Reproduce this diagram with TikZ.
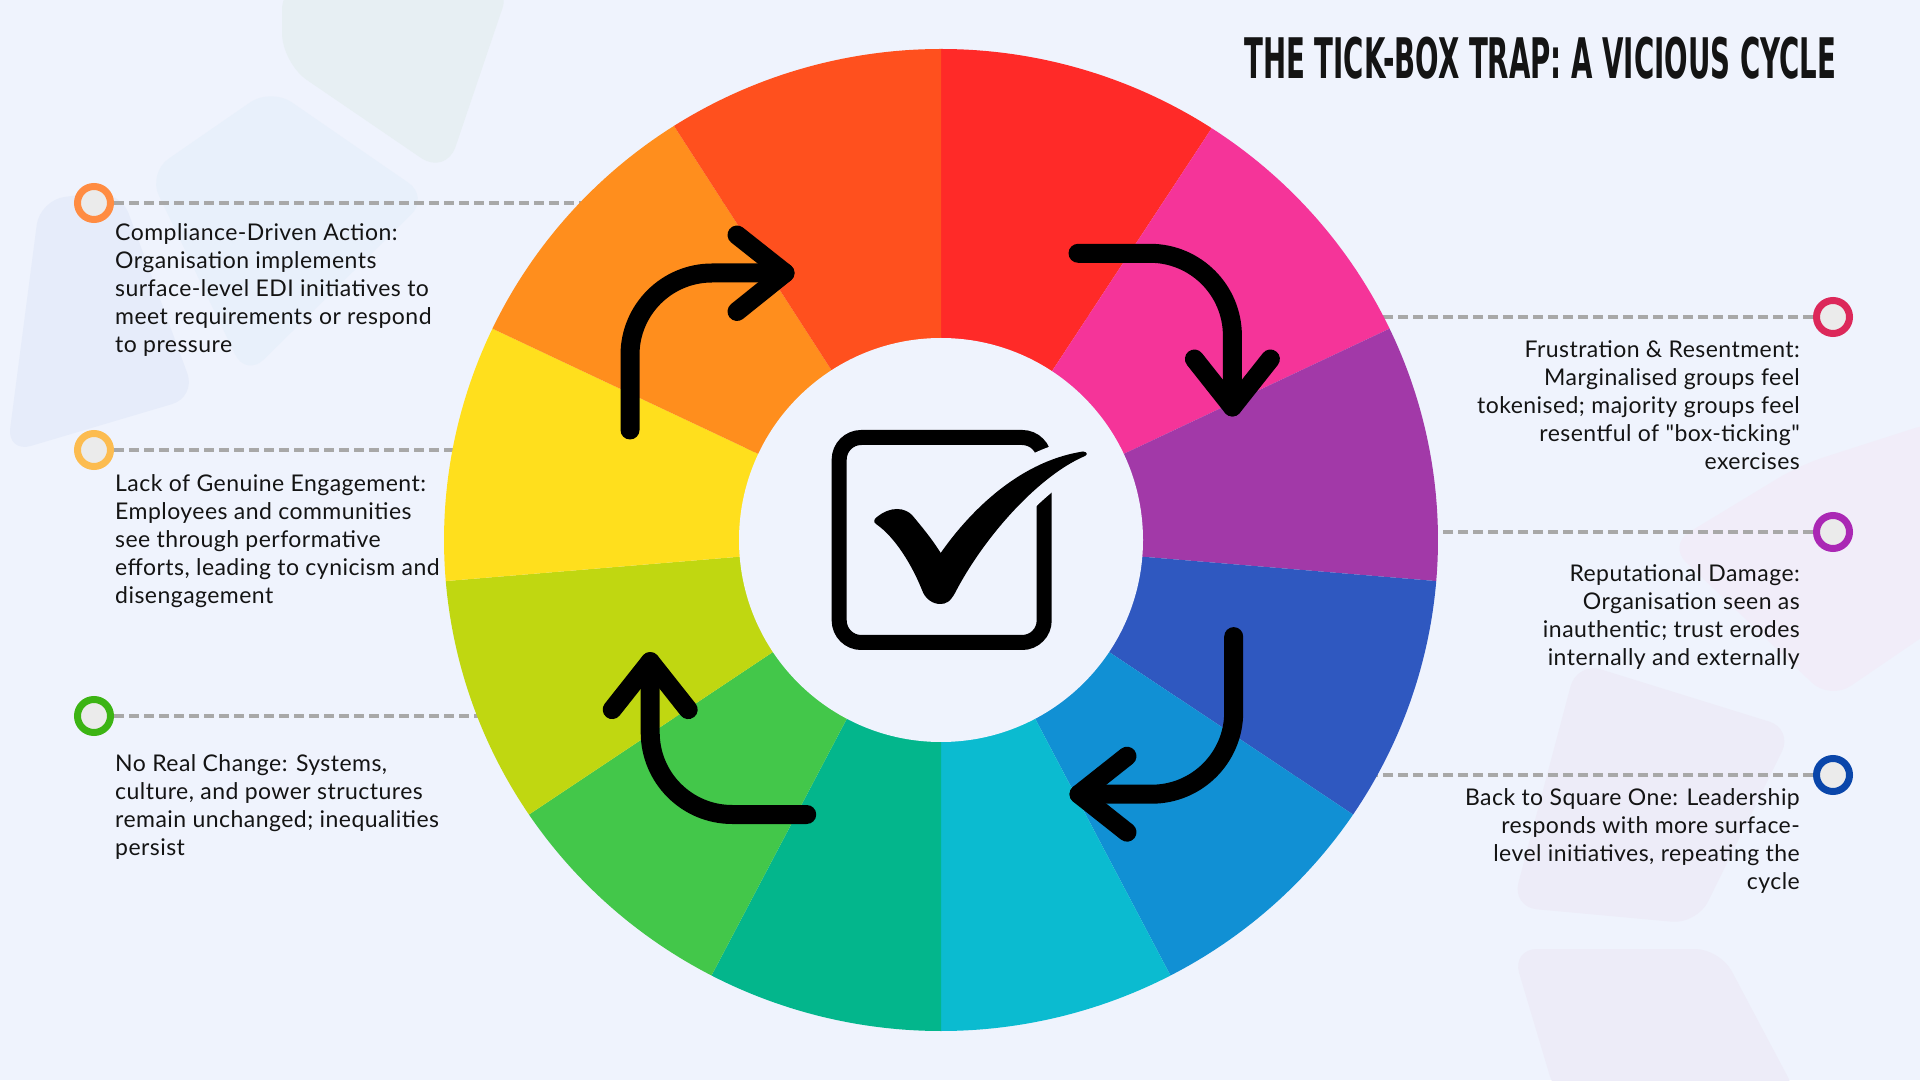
\documentclass[tikz,border=0pt]{standalone}
\usepackage{fontspec}
\setmainfont{Lato}[Ligatures=TeXOff, LetterSpace=2]
\newfontfamily\titlefont{DejaVu Sans}
\definecolor{bgpage}{RGB}{239,243,253}
\definecolor{ink}{RGB}{20,20,20}
\definecolor{dashgray}{RGB}{168,168,168}
\definecolor{dotfill}{RGB}{235,235,235}
\definecolor{segA}{RGB}{255,42,40}
\definecolor{segB}{RGB}{245,52,153}
\definecolor{segC}{RGB}{162,57,168}
\definecolor{segD}{RGB}{47,88,192}
\definecolor{segE}{RGB}{17,144,212}
\definecolor{segF}{RGB}{11,187,208}
\definecolor{segG}{RGB}{3,182,140}
\definecolor{segH}{RGB}{67,199,74}
\definecolor{segI}{RGB}{192,215,17}
\definecolor{segJ}{RGB}{255,223,29}
\definecolor{segK}{RGB}{255,142,29}
\definecolor{segL}{RGB}{255,80,30}
\definecolor{dotA}{RGB}{255,140,66}
\definecolor{dotB}{RGB}{252,188,80}
\definecolor{dotC}{RGB}{60,180,20}
\definecolor{dotD}{RGB}{220,40,90}
\definecolor{dotE}{RGB}{170,40,180}
\definecolor{dotF}{RGB}{10,70,170}
\definecolor{shA}{RGB}{231,239,243}
\definecolor{shB}{RGB}{232,240,251}
\definecolor{shC}{RGB}{230,236,250}
\definecolor{shD}{RGB}{241,237,249}
\definecolor{shE}{RGB}{237,236,248}
\usepackage{tikz}
\tikzset{
  pdot/.style={circle, draw=#1, line width=7pt, fill=dotfill, minimum size=33pt, inner sep=0pt},
  pline/.style={draw=dashgray, line width=3.5pt, dash pattern=on 10pt off 5pt},
  ltext/.style={anchor=north west, align=left, inner sep=0pt, text=ink, font=\fontsize{23}{28}\selectfont},
  rtext/.style={anchor=north east, align=right, inner sep=0pt, text=ink, font=\fontsize{23}{28}\selectfont},
  cyarrow/.style={line width=19pt, line cap=round, line join=round, black}
}

\begin{document}
\begin{tikzpicture}[x=1pt,y=1pt]
  \useasboundingbox (0,0) rectangle (1920,1080);
  \fill[bgpage] (0,0) rectangle (1920,1080);
  % faint shapes
  \fill[shA, rounded corners=30pt] (282,1100) -- (512,1100) -- (446,905) -- (282,1017) -- cycle;
  \fill[shB, rounded corners=25pt] (271,992) -- (429,883) -- (246,703) -- (148,907) -- cycle;
  \fill[shC, rounded corners=25pt] (40,880) -- (120,890) -- (196,683) -- (7,627) -- cycle;
  \fill[shD, rounded corners=25pt] (1668,535) -- (1800,615) -- (1940,660) -- (1940,455) -- (1830,380) -- cycle;
  \fill[shE, rounded corners=25pt] (1577,418) -- (1793,351) -- (1697,156) -- (1512,173) -- cycle;
  \fill[shE, rounded corners=25pt] (1512,131) -- (1720,131) -- (1800,-20) -- (1557,-20) -- cycle;

  % leader lines and dots
  \coordinate (ctr) at (941,540);
  \node[pdot=dotA] (d1) at (94,877) {};
  \node[pdot=dotB] (d2) at (94,630) {};
  \node[pdot=dotC] (d3) at (94,364) {};
  \node[pdot=dotD] (d4) at (1833,763) {};
  \node[pdot=dotE] (d5) at (1833,548) {};
  \node[pdot=dotF] (d6) at (1833,305) {};
  \coordinate (w1) at (941,877);
  \coordinate (w2) at (941,630);
  \coordinate (w3) at (941,364);
  \coordinate (w4) at (941,763);
  \coordinate (w5) at (941,548);
  \coordinate (w6) at (941,305);
  \foreach \i in {1,...,6} \draw[pline] (d\i) -- (w\i);

  % wheel
  \begin{scope}[shift={(941,540)}]
    \foreach \a/\b/\c in {90/57/segA, 57/25.5/segB, 25.5/-4.8/segC, -4.8/-34/segD,
      -34/-62.5/segE, -62.5/-90/segF, -90/-117.5/segG, -117.5/-146/segH,
      -146/-175.2/segI, -175.2/-205.5/segJ, -205.5/-237.5/segK, -237.5/-270/segL}
      \fill[\c] (0,0) -- ({497*cos(\a)},{491*sin(\a)}) arc[start angle=\a, end angle=\b, x radius=497pt, y radius=491pt] -- cycle;
    \fill[bgpage] (0,0) circle[radius=202pt];
  \end{scope}

  % cycle arrows
  \draw[cyarrow] (630,650) -- (630,725) arc[start angle=180, end angle=90, radius=82pt] -- (785,807);
  \draw[cyarrow] (737,845) -- (785,807) -- (737,768.5);
  \draw[cyarrow] (1078,826.7) -- (1150,826.7) arc[start angle=90, end angle=0, radius=82.4pt] -- (1232.4,673);
  \draw[cyarrow] (1194.4,721) -- (1232.4,673) -- (1270.4,721);
  \draw[cyarrow] (1233.7,443.4) -- (1233.7,367.8) arc[start angle=0, end angle=-90, radius=82pt] -- (1079,285.8);
  \draw[cyarrow] (1127,323.8) -- (1079,285.8) -- (1127,247.8);
  \draw[cyarrow] (806.7,265.5) -- (732.2,265.5) arc[start angle=270, end angle=180, radius=82pt] -- (650.2,418.4);
  \draw[cyarrow] (612.2,370.4) -- (650.2,418.4) -- (688.2,370.4);

  % tick box
  \draw[black, line width=15pt, rounded corners=22pt] (839.2,437.5) rectangle (1044.2,642.5);
  \path[fill=black, draw=bgpage, line width=26pt, line join=round]
    (876,556) .. controls (873,558) and (874,561) .. (877,563)
    .. controls (883,568) and (890,571) .. (897,571)
    .. controls (904,571) and (909,568) .. (912,565)
    .. controls (922,553) and (932,541) .. (940.7,527)
    .. controls (965,562) and (1015,618) .. (1083,628.5)
    .. controls (1087,628) and (1088,626) .. (1085,624)
    .. controls (1040,605) and (985,545) .. (955,487)
    .. controls (950,478) and (946,476) .. (940,476)
    .. controls (933,476) and (925,481) .. (922,490)
    .. controls (912,515) and (895,543) .. (876,556) -- cycle;
  \fill[black]
    (876,556) .. controls (873,558) and (874,561) .. (877,563)
    .. controls (883,568) and (890,571) .. (897,571)
    .. controls (904,571) and (909,568) .. (912,565)
    .. controls (922,553) and (932,541) .. (940.7,527)
    .. controls (965,562) and (1015,618) .. (1083,628.5)
    .. controls (1087,628) and (1088,626) .. (1085,624)
    .. controls (1040,605) and (985,545) .. (955,487)
    .. controls (950,478) and (946,476) .. (940,476)
    .. controls (933,476) and (925,481) .. (922,490)
    .. controls (912,515) and (895,543) .. (876,556) -- cycle;

  % title and texts
  \node[anchor=north west, inner sep=0pt, text=ink] (title) at (1244,1043)
    {\resizebox{592pt}{41.5pt}{\titlefont\bfseries THE TICK-BOX TRAP: A VICIOUS CYCLE}};
  \node[ltext] (t1) at (115,856.5) {Compliance-Driven Action:\\Organisation implements\\surface-level EDI initiatives to\\meet requirements or respond\\to pressure};
  \node[ltext] (t2) at (115,606) {Lack of Genuine Engagement:\\Employees and communities\\see through performative\\efforts, leading to cynicism and\\disengagement};
  \node[ltext] (t3) at (115,325.3) {No Real Change: Systems,\\culture, and power structures\\remain unchanged; inequalities\\persist};
  \node[rtext] (t4) at (1800,740) {Frustration \& Resentment:\\Marginalised groups feel\\tokenised; majority groups feel\\resentful of "box-ticking"\\exercises};
  \node[rtext] (t5) at (1800,516) {Reputational Damage:\\Organisation seen as\\inauthentic; trust erodes\\internally and externally};
  \node[rtext] (t6) at (1800,292) {Back to Square One: Leadership\\responds with more surface-\\level initiatives, repeating the\\cycle};
\end{tikzpicture}
\end{document}
